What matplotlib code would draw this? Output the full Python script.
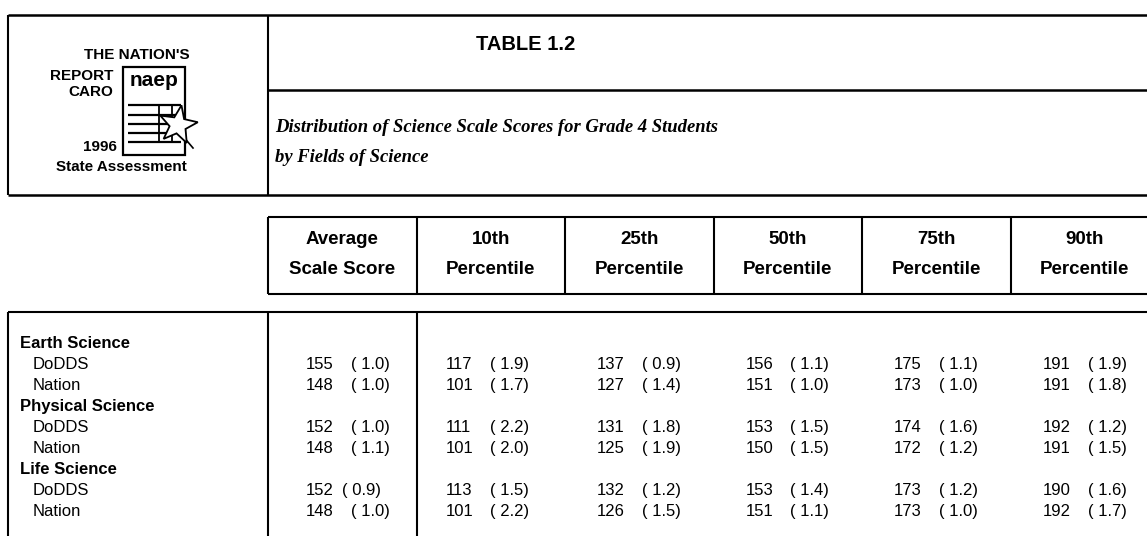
import numpy as np
import matplotlib
matplotlib.use("Agg")
import matplotlib.pyplot as plt
from matplotlib.patches import Rectangle, Polygon

# ---------------- data ----------------
table_title = "TABLE 1.2"
subtitle_lines = ["Distribution of Science Scale Scores for Grade 4 Students",
                  "by Fields of Science"]
col_headers = [("Average", "Scale Score"), ("10th", "Percentile"), ("25th", "Percentile"),
               ("50th", "Percentile"), ("75th", "Percentile"), ("90th", "Percentile")]
fields = ["Earth Science", "Physical Science", "Life Science"]
groups = ["DoDDS", "Nation"]

# scores and standard errors for the 6 columns
earth_doDDS = [155, 117, 137, 156, 175, 191]
earth_doDDS_se = ["1.0", "1.9", "0.9", "1.1", "1.1", "1.9"]
earth_nation = [148, 101, 127, 151, 173, 191]
earth_nation_se = ["1.0", "1.7", "1.4", "1.0", "1.0", "1.8"]
phys_doDDS = [152, 111, 131, 153, 174, 192]
phys_doDDS_se = ["1.0", "2.2", "1.8", "1.5", "1.6", "1.2"]
phys_nation = [148, 101, 125, 150, 172, 191]
phys_nation_se = ["1.1", "2.0", "1.9", "1.5", "1.2", "1.5"]
life_doDDS = [152, 113, 132, 153, 173, 190]
life_doDDS_se = ["0.9", "1.5", "1.2", "1.4", "1.2", "1.6"]
life_nation = [148, 101, 126, 151, 173, 192]
life_nation_se = ["1.0", "2.2", "1.5", "1.1", "1.0", "1.7"]

values = [[(earth_doDDS, earth_doDDS_se), (earth_nation, earth_nation_se)],
          [(phys_doDDS, phys_doDDS_se), (phys_nation, phys_nation_se)],
          [(life_doDDS, life_doDDS_se), (life_nation, life_nation_se)]]

# ---------------- layout ----------------
W, H = 1147, 536
fig = plt.figure(figsize=(W / 100, H / 100), dpi=100)
ax = fig.add_axes([0, 0, 1, 1])
ax.set_xlim(0, W)
ax.set_ylim(H, 0)
ax.axis("off")

SANS = ["Liberation Sans", "DejaVu Sans"]
SERIF = ["Liberation Serif", "DejaVu Serif"]
LW = 1.5


def hline(y, x0, x1, lw=LW):
    ax.plot([x0, x1], [y, y], color="black", lw=lw, solid_capstyle="butt")


def vline(x, y0, y1, lw=LW):
    ax.plot([x, x], [y0, y1], color="black", lw=lw, solid_capstyle="butt")


# top box
box_left, split_x = 8, 268
top_y, mid_y, top_bottom = 15, 90, 195
hline(top_y, box_left, W, lw=1.8)
hline(top_bottom, box_left, W, lw=1.8)
hline(mid_y, split_x, W, lw=1.8)
vline(box_left, top_y, top_bottom)
vline(split_x, top_y, top_bottom)

ax.text(526, 44, table_title, fontsize=14.5, fontweight="bold", family=SANS,
        ha="center", va="center")
for i, line in enumerate(subtitle_lines):
    ax.text(275, 128 + i * 29, line, fontsize=13.4, fontweight="bold", fontstyle="italic",
            family=SERIF, ha="left", va="center")

# logo
logo_kw = dict(fontsize=11, fontweight="bold", family=SANS, va="center")
ax.text(190, 55, "THE NATION'S", ha="right", **logo_kw)
ax.text(113, 76, "REPORT", ha="right", **logo_kw)
ax.text(113, 92, "CARO", ha="right", **logo_kw)
ax.text(117, 147, "1996", ha="right", **logo_kw)
ax.text(121, 167, "State Assessment", ha="center", **logo_kw)
ax.add_patch(Rectangle((123, 67), 62, 88, fill=False, ec="black", lw=1.6))
ax.text(154, 80, "naep", fontsize=15, fontweight="heavy", family=SANS,
        ha="center", va="center")
for yy in [105, 115, 124, 133, 142]:
    hline(yy, 128, 181, lw=1.6)
for xx in [159, 172]:
    vline(xx, 105, 142, lw=1.3)
ang = np.deg2rad(np.arange(10) * 36 + 80)
rad = np.where(np.arange(10) % 2 == 0, 20, 8.5)
star = np.column_stack([178 + rad * np.cos(ang), 125 - rad * np.sin(ang)])
ax.add_patch(Polygon(star, closed=True, fc="white", ec="black", lw=1.3, zorder=5))
ax.plot([182, 193], [135, 148], color="black", lw=1.2, zorder=4)

# column header box
col_w = 148.5
col_edges = [split_x + i * col_w for i in range(len(col_headers) + 1)]
hdr_top, hdr_bot = 217, 294
hline(hdr_top, split_x, W)
hline(hdr_bot, split_x, W)
for x in col_edges[:-1]:
    vline(x, hdr_top, hdr_bot)
for i, (l1, l2) in enumerate(col_headers):
    cx = (col_edges[i] + col_edges[i + 1]) / 2
    ax.text(cx, 240, l1, fontsize=13.5, fontweight="bold", family=SANS, ha="center", va="center")
    ax.text(cx, 269, l2, fontsize=13.5, fontweight="bold", family=SANS, ha="center", va="center")

# body box
body_top = 312
hline(body_top, box_left, W)
vline(box_left, body_top, H)
vline(split_x, body_top, H)
vline(col_edges[1], body_top, H)

row0, row_h = 343, 21.1
num_off = [38, 29, 32, 32, 32, 32]
se_gap = 45
tight = {(2, 0, 0): 36}  # "152 ( 0.9)" printed with a single space
r = 0
for fi, field in enumerate(fields):
    ax.text(20, row0 + r * row_h, field, fontsize=12, fontweight="bold", family=SANS,
            ha="left", va="center")
    r += 1
    for gi, grp in enumerate(groups):
        y = row0 + r * row_h
        ax.text(33, y, grp, fontsize=12, family=SANS, ha="left", va="center")
        nums, ses = values[fi][gi]
        for ci in range(len(col_headers)):
            x = col_edges[ci] + num_off[ci]
            ax.text(x, y, str(nums[ci]), fontsize=12, family=SANS, ha="left", va="center")
            gap = tight.get((fi, gi, ci), se_gap)
            ax.text(x + gap, y, "( " + ses[ci] + ")", fontsize=12, family=SANS,
                    ha="left", va="center")
        r += 1

fig.savefig("out.png", dpi=100)
